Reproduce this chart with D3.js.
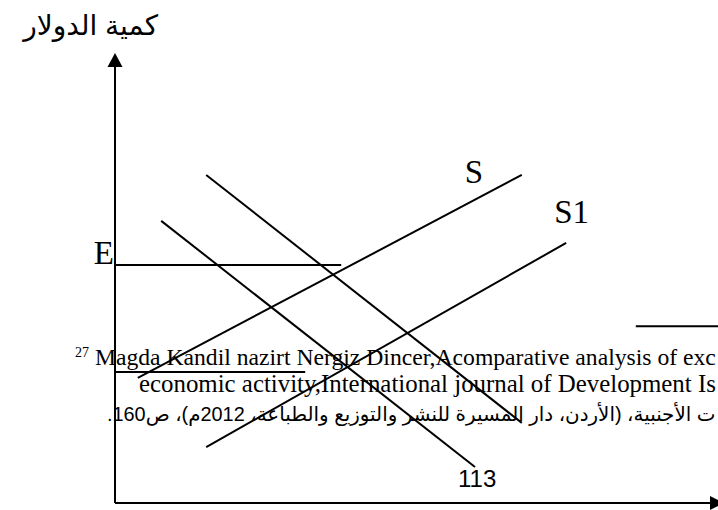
<!DOCTYPE html>
<html>
<head>
<meta charset="utf-8">
<script src="https://cdn.jsdelivr.net/npm/d3@7"></script>
<style>
  html, body { margin: 0; padding: 0; background: #fff; overflow: hidden; }
  svg { display: block; }
</style>
</head>
<body>
<svg id="chart" width="718" height="510"></svg>
<script>
// Supply and demand curves for the dollar, in chart units (0..100 on each axis)
const curveNames = ["S", "S1", "D", "D1"];
const curveStart = [[3.8, 27.8], [15.2, 12.4], [7.7, 62.7], [15.2, 72.9]];
const curveEnd   = [[67.8, 72.9], [75.2, 57.8], [60.0, 8.0], [67.8, 17.8]];

// Horizontal reference lines: [level, from, to]
const levelLines = [[52.9, 0, 37.7], [29.1, 0, 31.7], [39.3, 86.8, 101]];

// Text
const yAxisTitle = "كمية الدولار";
const equilibriumLabel = "E";
const supplyLabels = ["S", "S1"];
const footnoteLatin = ["Magda Kandil nazirt Nergiz Dincer,Acomparative analysis of exc",
                       "economic activity,International journal of Development Is"];
const footnoteMark = "27";
const footnoteArabic = "ت الأجنبية، (الأردن، دار المسيرة للنشر والتوزيع والطباعة، 2012م)، ص160.";
const pageNumber = "113";

const svg = d3.select("#chart");

const x = d3.scaleLinear().domain([0, 100]).range([115, 715]);
const y = d3.scaleLinear().domain([0, 100]).range([503, 53]);

const serif = "'Liberation Serif', 'Times New Roman', serif";
const sans = "'Liberation Sans', Arial, 'DejaVu Sans', sans-serif";
const rightEdge = 716;

// Scale a text's font so that it spans exactly the given width
function fitWidth(sel, width) {
  const size = +sel.attr("font-size");
  const len = sel.node().getComputedTextLength();
  if (len > 0) sel.attr("font-size", size * width / len);
}

// Footnote text (drawn first so lines pass over it)
const fn = svg.append("g").attr("fill", "#000");
const l1 = fn.append("text")
  .attr("x", 75).attr("y", 365)
  .attr("font-family", serif).attr("font-size", 24);
l1.append("tspan").attr("font-size", 14).attr("dy", -8).text(footnoteMark);
l1.append("tspan").attr("dy", 8).text(" " + footnoteLatin[0]);
fitWidth(l1, rightEdge - 75);

const l2 = fn.append("text")
  .attr("x", 139).attr("y", 392)
  .attr("font-family", serif).attr("font-size", 24)
  .text(footnoteLatin[1]);
fitWidth(l2, rightEdge - 139);

const l3 = fn.append("text")
  .attr("x", 107).attr("y", 421)
  .attr("direction", "rtl").attr("text-anchor", "end")
  .attr("font-family", sans).attr("font-size", 22)
  .text(footnoteArabic);
fitWidth(l3, rightEdge - 107);

// Axes with arrow heads
const axes = svg.append("g").attr("stroke", "#000").attr("stroke-width", 2);
axes.append("line")
  .attr("x1", x(0)).attr("y1", y(0)).attr("x2", x(0)).attr("y2", y(100) + 12);
axes.append("line")
  .attr("x1", x(0)).attr("y1", y(0)).attr("x2", 712).attr("y2", y(0));
svg.append("path")
  .attr("d", `M${x(0)},${y(100)} L${x(0) - 7.5},${y(100) + 14} L${x(0) + 7.5},${y(100) + 14} Z`)
  .attr("fill", "#000");
svg.append("path")
  .attr("d", `M724,${y(0)} L710,${y(0) - 7} L710,${y(0) + 7} Z`)
  .attr("fill", "#000");

// Horizontal levels
svg.append("g").selectAll("line")
  .data(levelLines)
  .join("line")
  .attr("x1", d => x(d[1])).attr("x2", d => x(d[2]))
  .attr("y1", d => y(d[0])).attr("y2", d => y(d[0]))
  .attr("stroke", "#000").attr("stroke-width", 2);

// Curves
const curves = curveNames.map((n, i) => ({ name: n, a: curveStart[i], b: curveEnd[i] }));
svg.append("g").selectAll("line")
  .data(curves)
  .join("line")
  .attr("x1", d => x(d.a[0])).attr("y1", d => y(d.a[1]))
  .attr("x2", d => x(d.b[0])).attr("y2", d => y(d.b[1]))
  .attr("stroke", "#000").attr("stroke-width", 2);

// Labels
svg.append("text")
  .attr("x", 158).attr("y", 35)
  .attr("text-anchor", "end")
  .attr("font-family", sans).attr("font-size", 28)
  .text(yAxisTitle);
svg.append("text")
  .attr("x", x(0) - 1).attr("y", y(levelLines[0][0]) - 1)
  .attr("text-anchor", "end")
  .attr("font-family", serif).attr("font-size", 33)
  .text(equilibriumLabel);
svg.append("text")
  .attr("x", x(curveEnd[0][0]) - 57).attr("y", y(curveEnd[0][1]) + 8)
  .attr("font-family", serif).attr("font-size", 33)
  .text(supplyLabels[0]);
svg.append("text")
  .attr("x", x(curveEnd[1][0]) - 12).attr("y", y(curveEnd[1][1]) - 20)
  .attr("font-family", serif).attr("font-size", 33)
  .text(supplyLabels[1]);
svg.append("text")
  .attr("x", 458).attr("y", 487)
  .attr("font-family", sans).attr("font-size", 24)
  .text(pageNumber);
</script>
</body>
</html>
